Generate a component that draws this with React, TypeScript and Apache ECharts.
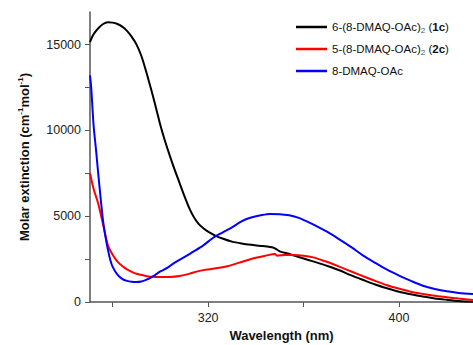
import React, { useEffect, useRef } from "react";
import * as echarts from "echarts";

const seriesNames = ["6-(8-DMAQ-OAc)2 (1c)", "5-(8-DMAQ-OAc)2 (2c)", "8-DMAQ-OAc"];

const blackData: [number, number][] = [
  [270.5, 15150], [272, 15600], [274, 15950], [276, 16200], [278, 16300], [280, 16280],
  [282, 16200], [284, 16050], [286, 15800], [288, 15450], [290, 15000], [292, 14350],
  [294, 13450], [296, 12450], [298, 11400], [300, 10300], [302, 9350], [304, 8500],
  [306, 7700], [308, 6950], [310, 6200], [312, 5500], [314, 4950], [316, 4550],
  [318, 4300], [320, 4100], [323, 3870], [326, 3700], [330, 3520], [334, 3410],
  [338, 3330], [342, 3270], [346, 3200], [348, 3130], [350, 2950], [354, 2800],
  [358, 2620], [362, 2450], [366, 2280], [370, 2100], [375, 1850], [380, 1550],
  [385, 1280], [390, 1020], [395, 800], [400, 600], [405, 450], [410, 320],
  [415, 210], [420, 130], [425, 60], [431, 10],
];

const redData: [number, number][] = [
  [270.5, 7500], [272, 6600], [274, 5700], [276, 4500], [278, 3300], [280, 2750],
  [282, 2350], [284, 2100], [286, 1900], [288, 1760], [290, 1650], [293, 1550],
  [296, 1470], [300, 1450], [304, 1460], [308, 1520], [312, 1640], [316, 1800],
  [320, 1900], [324, 1980], [328, 2080], [332, 2250], [336, 2420], [340, 2580],
  [344, 2700], [348, 2800], [349, 2700], [352, 2740], [356, 2740], [360, 2700],
  [364, 2600], [368, 2420], [372, 2230], [376, 2000], [380, 1780], [385, 1500],
  [390, 1230], [395, 980], [400, 780], [405, 600], [410, 470], [415, 360],
  [420, 280], [425, 200], [431, 120],
];

const blueData: [number, number][] = [
  [270.5, 13200], [271, 12500], [272, 10300], [273, 8900], [274, 7400], [275, 6000],
  [276, 4700], [277, 3800], [278, 3050], [279, 2450], [280, 2050], [282, 1600],
  [284, 1350], [286, 1230], [288, 1180], [290, 1170], [292, 1200], [294, 1290],
  [296, 1420], [298, 1600], [300, 1780], [303, 2000], [306, 2300], [310, 2620],
  [314, 2950], [318, 3300], [322, 3730], [326, 4050], [330, 4350], [334, 4700],
  [338, 4920], [342, 5050], [346, 5130], [350, 5120], [354, 5050], [358, 4900],
  [362, 4650], [366, 4380], [370, 4080], [375, 3650], [380, 3200], [385, 2700],
  [390, 2280], [395, 1880], [400, 1540], [405, 1230], [410, 950], [415, 760],
  [420, 620], [425, 530], [431, 470],
];

const xTickValues = [280, 320, 360, 400];
const xLabelValues = [320, 400];
const yTickValues = [0, 2500, 5000, 7500, 10000, 12500, 15000];
const yLabelValues = [0, 5000, 10000, 15000];

const colors = ["#000000", "#ff0000", "#0000ff"];
const FONT = "'Liberation Sans', Arial, sans-serif";

export default function App() {
  const ref = useRef<HTMLDivElement>(null);
  useEffect(() => {
    if (!ref.current) return;
    const chart = echarts.init(ref.current, undefined, { renderer: "svg" });
    const legendRich: Record<string, string> = {
      [seriesNames[0]]: "{n|6-(8-DMAQ-OAc)}{s|2}{n| (}{b|1c}{n|)}",
      [seriesNames[1]]: "{n|5-(8-DMAQ-OAc)}{s|2}{n| (}{b|2c}{n|)}",
      [seriesNames[2]]: "{n|8-DMAQ-OAc}",
    };
    const datasets = [blackData, redData, blueData];
    chart.setOption({
      animation: false,
      textStyle: { fontFamily: FONT },
      grid: { left: 90, right: 0, top: 12, bottom: 43, containLabel: false, outerBoundsMode: "none" },
      legend: {
        orient: "vertical",
        left: 291,
        top: 16,
        icon: "rect",
        itemWidth: 31,
        itemHeight: 2.5,
        itemGap: 9,
        data: seriesNames,
        formatter: (name: string) => legendRich[name] || name,
        textStyle: {
          fontFamily: FONT,
          fontSize: 11.5,
          color: "#111",
          rich: {
            n: { fontSize: 11.5, lineHeight: 14, color: "#111", fontFamily: FONT },
            s: { fontSize: 8, lineHeight: 14, verticalAlign: "bottom", color: "#555", fontFamily: FONT },
            b: { fontSize: 11.5, lineHeight: 14, fontWeight: "bold", color: "#111", fontFamily: FONT },
          },
        },
      },
      xAxis: {
        type: "value",
        min: 270.5,
        max: 431,
        name: "Wavelength (nm)",
        nameLocation: "middle",
        nameGap: 27,
        nameTextStyle: { fontSize: 13, fontWeight: "bold", color: "#111", fontFamily: FONT },
        axisLine: { show: true, onZero: false, lineStyle: { color: "#555", width: 1.5 } },
        axisTick: { show: true, length: 5, customValues: xTickValues, lineStyle: { color: "#555" } },
        axisLabel: { customValues: xLabelValues, fontSize: 12.5, color: "#222", margin: 9, fontFamily: FONT },
        splitLine: { show: false },
      },
      yAxis: {
        type: "value",
        min: 0,
        max: 16900,
        name: "Molar extinction (cm{sup|-1}mol{sup|-1})",
        nameLocation: "middle",
        nameGap: 58,
        nameTextStyle: {
          fontSize: 13,
          fontWeight: "bold",
          color: "#111",
          fontFamily: FONT,
          lineHeight: 16,
          rich: {
            sup: { fontSize: 8, fontWeight: "bold", verticalAlign: "top", lineHeight: 16, color: "#111", fontFamily: FONT },
          },
        },
        axisLine: { show: true, lineStyle: { color: "#555", width: 1.5 } },
        axisTick: { show: true, length: 5, customValues: yTickValues, lineStyle: { color: "#555" } },
        axisLabel: {
          customValues: yLabelValues,
          formatter: (v: number) => String(v),
          fontSize: 12.5,
          color: "#222",
          margin: 9,
          fontFamily: FONT,
        },
        splitLine: { show: false },
      },
      series: seriesNames.map((name, i) => ({
        name,
        type: "line",
        data: datasets[i],
        symbol: "none",
        smooth: 0.3,
        lineStyle: { color: colors[i], width: 2 },
        itemStyle: { color: colors[i] },
      })),
    });
    return () => chart.dispose();
  }, []);
  return <div ref={ref} style={{ position: "absolute", left: 0, top: 0, width: 473, height: 345 }} />;
}
